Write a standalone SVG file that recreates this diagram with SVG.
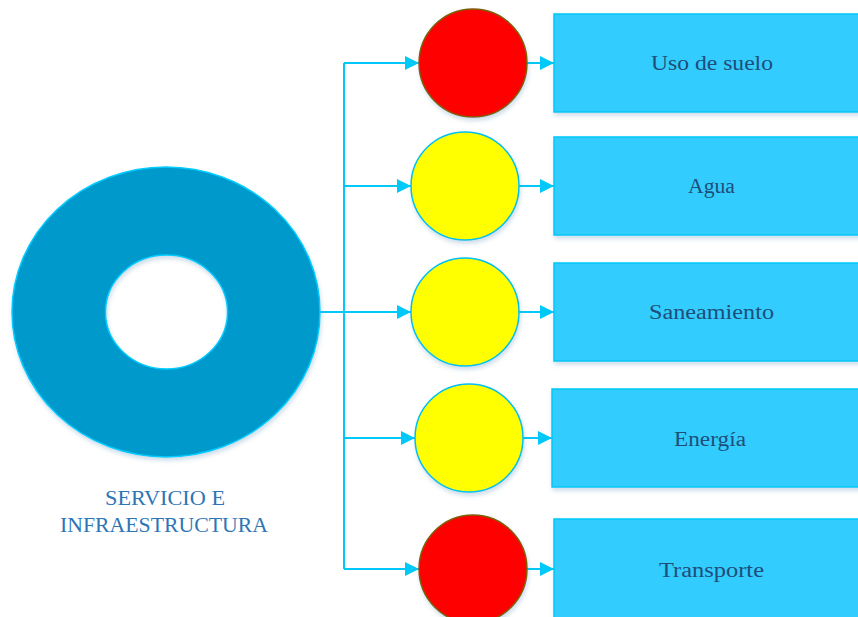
<svg xmlns="http://www.w3.org/2000/svg" width="858" height="617" viewBox="0 0 858 617">
<defs>
<filter id="sh" x="-10%" y="-10%" width="130%" height="130%">
<feDropShadow dx="1" dy="3" stdDeviation="2" flood-color="#5b8fb9" flood-opacity="0.3"/>
</filter>
<marker id="ah2" viewBox="0 0 10 10" refX="10" refY="5" markerWidth="14" markerHeight="14" markerUnits="userSpaceOnUse" orient="auto">
<path d="M0,0 L10,5 L0,10 Z" fill="#00C8F8"/>
</marker>
</defs>
<style>
.conn{fill:none;stroke:#00C8F8;stroke-width:2}
.box{fill:#33CCFF;stroke:#00C8F8;stroke-width:1.5;filter:url(#sh)}
.red{fill:#FF0000;stroke:#7F6000;stroke-width:1.5;filter:url(#sh)}
.yel{fill:#FFFF00;stroke:#00C0F0;stroke-width:1.5;filter:url(#sh)}
.lbl{font-family:"Liberation Serif","DejaVu Serif",serif;font-size:20px;fill:#1F4E79;text-anchor:middle}
.main{font-family:"Liberation Serif","DejaVu Serif",serif;font-size:20px;fill:#2E75B6;text-anchor:middle}
</style>
<g id="connectors">
<path class="conn" d="M320,312 H344"/>
<path class="conn" d="M344,63 V569"/>
<path class="conn" d="M344,63 H419" marker-end="url(#ah2)"/>
<path class="conn" d="M344,186 H411" marker-end="url(#ah2)"/>
<path class="conn" d="M344,312 H411" marker-end="url(#ah2)"/>
<path class="conn" d="M344,438 H415" marker-end="url(#ah2)"/>
<path class="conn" d="M344,569 H419" marker-end="url(#ah2)"/>
<path class="conn" d="M527,63 H554" marker-end="url(#ah2)"/>
<path class="conn" d="M519,186 H554" marker-end="url(#ah2)"/>
<path class="conn" d="M519,312 H554" marker-end="url(#ah2)"/>
<path class="conn" d="M523,438 H552" marker-end="url(#ah2)"/>
<path class="conn" d="M527,569 H554" marker-end="url(#ah2)"/>
</g>
<g id="servicio">
<path d="M12,312 A154,145 0 1,0 320,312 A154,145 0 1,0 12,312 Z M105.5,312 A61,57 0 1,0 227.5,312 A61,57 0 1,0 105.5,312 Z" fill="#0099CC" fill-rule="evenodd" stroke="#00CCFF" stroke-width="1.5" filter="url(#sh)"/>
<text class="main" x="165" y="505" textLength="120" lengthAdjust="spacingAndGlyphs">SERVICIO E</text>
<text class="main" x="164" y="532" textLength="208" lengthAdjust="spacingAndGlyphs">INFRAESTRUCTURA</text>
</g>
<g id="c1"><circle class="red" cx="473" cy="63" r="54"/></g>
<g id="c2"><circle class="yel" cx="465" cy="186" r="54"/></g>
<g id="c3"><circle class="yel" cx="465" cy="312" r="54"/></g>
<g id="c4"><circle class="yel" cx="469" cy="438" r="54"/></g>
<g id="c5"><circle class="red" cx="473" cy="569" r="54"/></g>
<g id="r1"><rect class="box" x="554" y="14" width="310" height="98"/><text class="lbl" x="712" y="70" textLength="122" lengthAdjust="spacingAndGlyphs">Uso de suelo</text></g>
<g id="r2"><rect class="box" x="554" y="137" width="310" height="98"/><text class="lbl" x="711.5" y="193" textLength="47" lengthAdjust="spacingAndGlyphs">Agua</text></g>
<g id="r3"><rect class="box" x="554" y="263" width="310" height="98"/><text class="lbl" x="711.5" y="319" textLength="125" lengthAdjust="spacingAndGlyphs">Saneamiento</text></g>
<g id="r4"><rect class="box" x="552" y="389" width="310" height="98"/><text class="lbl" x="710" y="446" textLength="72" lengthAdjust="spacingAndGlyphs">Energía</text></g>
<g id="r5"><rect class="box" x="554" y="519" width="310" height="100"/><text class="lbl" x="711.5" y="577" textLength="105" lengthAdjust="spacingAndGlyphs">Transporte</text></g>
</svg>
